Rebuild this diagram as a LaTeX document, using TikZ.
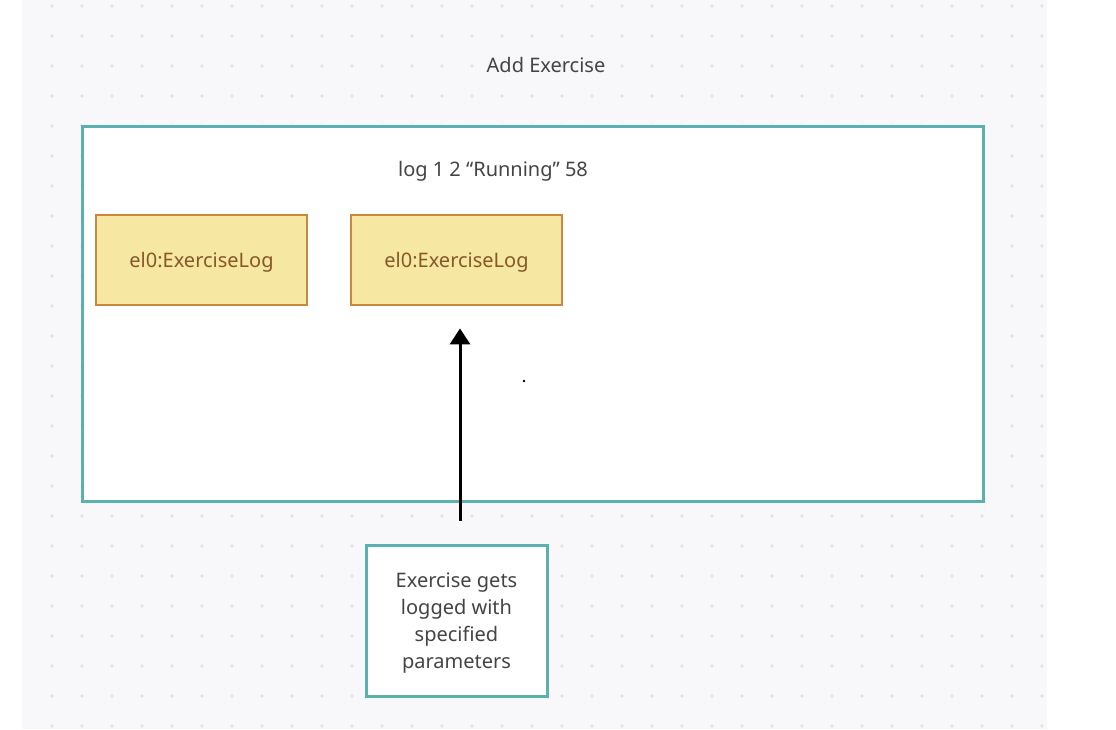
\documentclass[tikz,border=0pt]{standalone}
\usepackage{fontspec}
\setmainfont{Noto Sans}
\usetikzlibrary{positioning, arrows.meta}

\definecolor{bggray}{HTML}{F8F8FA}
\definecolor{dotgray}{HTML}{E2E2E6}
\definecolor{frameteal}{HTML}{5BB0B0}
\definecolor{logfill}{HTML}{F6E8A2}
\definecolor{logdraw}{HTML}{C9883F}
\definecolor{logtext}{HTML}{87572A}
\definecolor{textgray}{HTML}{444444}

\begin{document}
\begin{tikzpicture}[x=1pt, y=-1pt]
        \useasboundingbox (0,0) rectangle (1116,729);
        \fill[bggray] (22,0) rectangle (1047,729);
        \foreach \x in {52,82,...,1042}
        \foreach \y in {6,36,...,726}
        \fill[dotgray] (\x,\y) circle (1.8);

        \node[text=textgray, font=\fontsize{20}{22}\selectfont] (title) at (546,65) {Add Exercise};

        \node[draw=frameteal, line width=3pt, fill=white, minimum width=901pt, minimum height=375pt, anchor=north west] (frame) at (81,125) {};
        \node[text=textgray, font=\fontsize{20}{22}\selectfont] (cmd) at (493,171) {log 1 2 “Running” 58};

        \node[draw=logdraw, line width=2.8pt, fill=logfill, text=logtext, minimum width=211pt, minimum height=90pt, text depth=0pt, text height=14pt, font=\fontsize{20}{22}\selectfont] (log1) at (201.5,260) {el0:ExerciseLog};
        \node[draw=logdraw, line width=2.8pt, fill=logfill, text=logtext, minimum width=211pt, minimum height=90pt, text depth=0pt, text height=14pt, font=\fontsize{20}{22}\selectfont] (log2) at (456.5,260) {el0:ExerciseLog};

        \fill (524,381) circle (1.3);

        \node[draw=frameteal, line width=3pt, fill=white, text=textgray, minimum width=181pt, minimum height=151pt, text depth=0pt, align=center, font=\fontsize{20}{27}\selectfont] (note) at (456.5,620.5) {Exercise gets\\logged with\\specified\\parameters};

        \draw[-{Triangle[length=16pt, width=20pt]}, line width=3pt, shorten <=23pt, shorten >=22pt] ([xshift=3.5pt]note.north) -- ([xshift=3.5pt]log2.south);
    \end{tikzpicture}
\end{document}
